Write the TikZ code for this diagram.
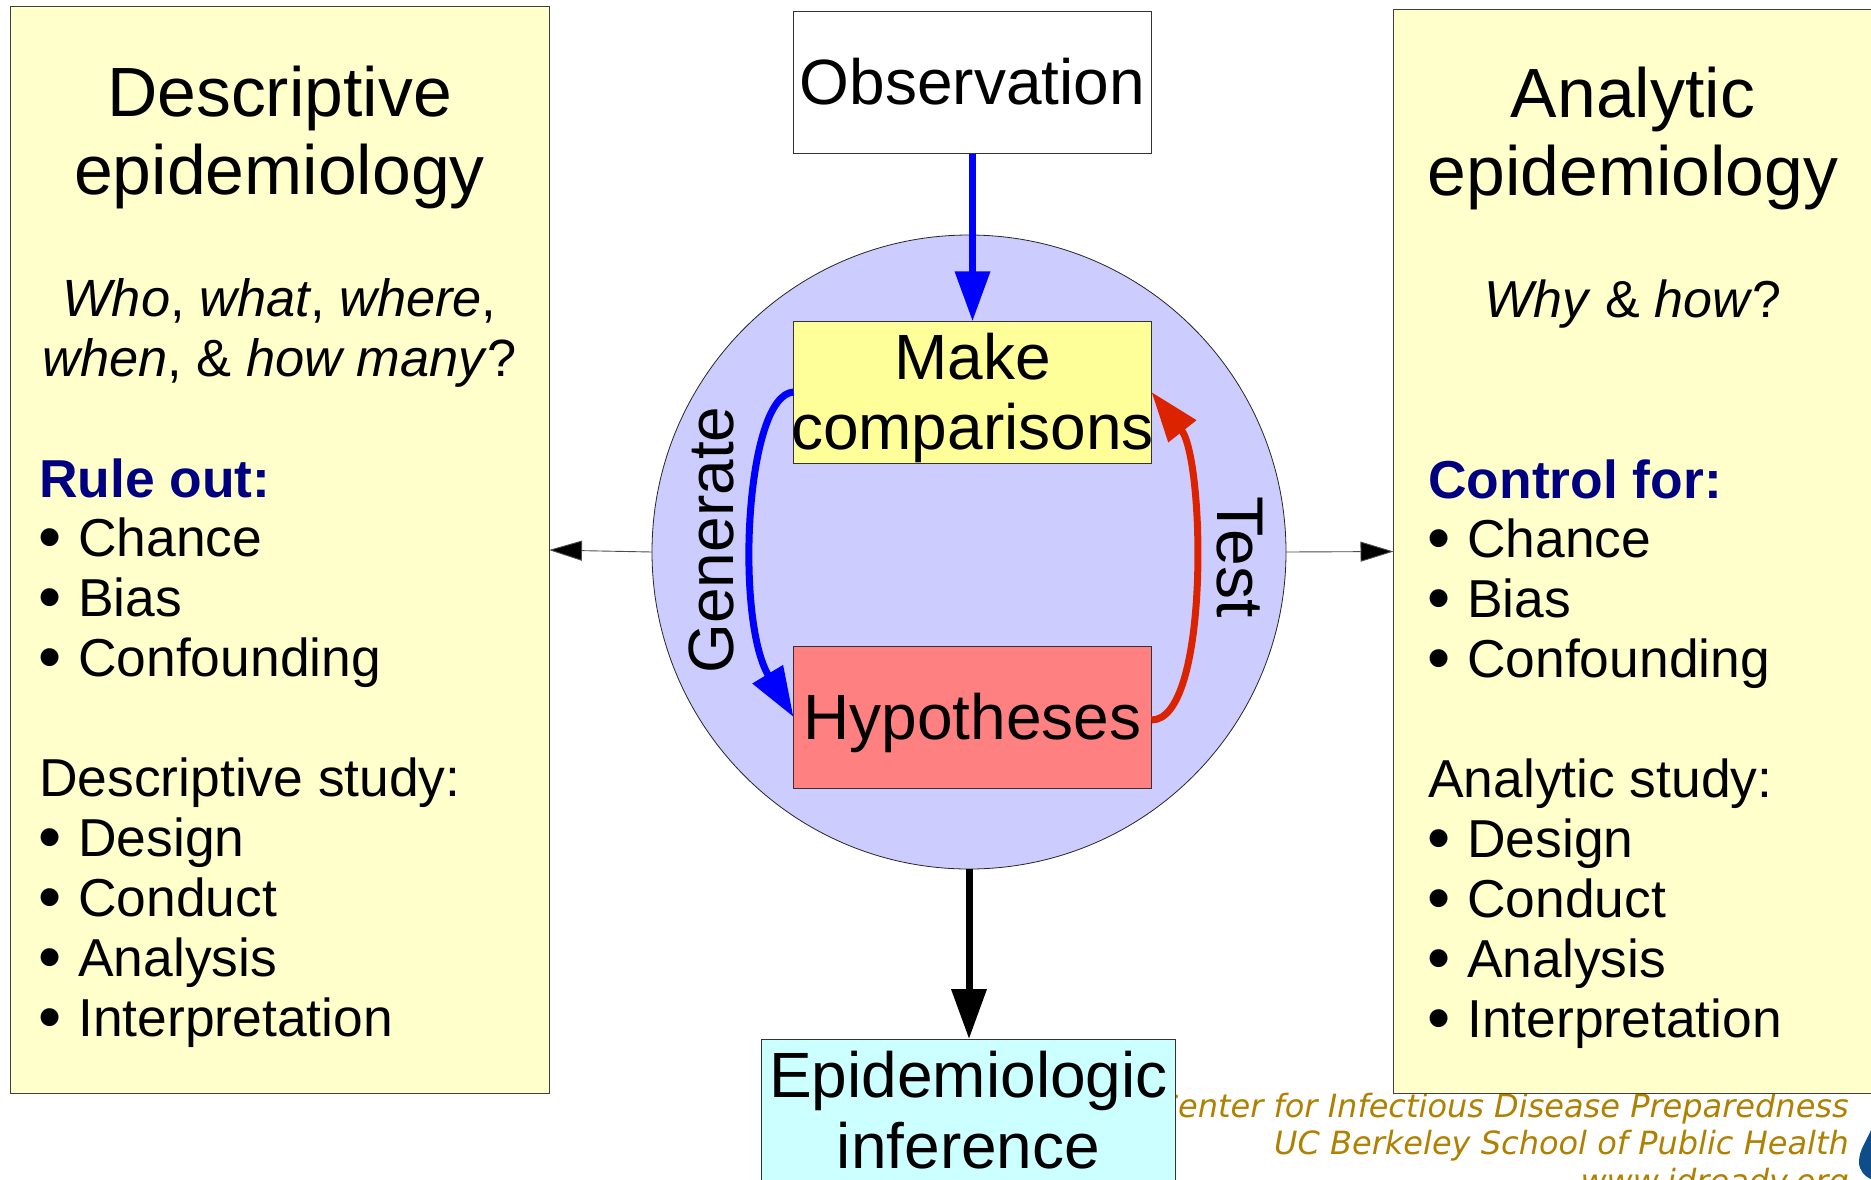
\documentclass[tikz,border=0pt]{standalone}
\usepackage{fontspec}
\setmainfont{Liberation Sans}
\newfontfamily\footfont{DejaVu Sans}
\usetikzlibrary{arrows.meta}
\definecolor{paleyel}{HTML}{FFFFCC}
\definecolor{yel}{HTML}{FFFF99}
\definecolor{rosy}{HTML}{FF8080}
\definecolor{lav}{HTML}{CCCCFF}
\definecolor{cyanish}{HTML}{CCFFFF}
\definecolor{redarrow}{HTML}{DC2300}
\definecolor{gold}{HTML}{B08000}
\definecolor{logoblue}{HTML}{0F4C8A}
\tikzset{
  x=1pt,y=-1pt,
  panel/.style={draw=black!75!white,line width=.9pt,fill=paleyel},
  boxn/.style={draw=black!80!white,line width=.9pt,inner sep=0pt,outer sep=0pt,minimum width=358pt,minimum height=142.5pt},
  big/.style={font=\fontsize{69.7}{78}\selectfont,anchor=base,inner sep=0pt},
  mid/.style={font=\fontsize{64}{70}\selectfont,align=center,inner sep=0pt},
  ln/.style={font=\fontsize{53.4}{60}\selectfont,anchor=base west,inner sep=0pt},
  ctr/.style={font=\fontsize{52.4}{60}\selectfont,anchor=base,inner sep=0pt},
  foot/.style={font=\footfont\itshape\fontsize{32}{37}\selectfont,text=gold,anchor=base east,inner sep=0pt},
  fat/.style={line width=7pt,-{Triangle[length=50pt,width=34pt]}},
  thin/.style={line width=.9pt,draw=black!70!white,-{Triangle[length=33pt,width=20pt,fill=black]}},
}
\newcommand{\hd}[1]{\textcolor[HTML]{000080}{\bfseries #1}}
\newcommand{\bul}{\fontsize{66}{60}\selectfont\raisebox{-3pt}{•}}
\begin{document}
\begin{tikzpicture}
\useasboundingbox (0,0) rectangle (1871,1179);
\clip (0,0) rectangle (1871,1179);
% footer and logo
\fill[logoblue] (1871,1130) .. controls (1866,1142) and (1859,1150) .. (1859,1162) .. controls (1859,1170) and (1864,1176) .. (1871,1179) -- cycle;
\node[foot] (f1) at (1849,1117) {Center for Infectious Disease Preparedness};
\node[foot] (f2) at (1849,1154) {UC Berkeley School of Public Health};
\node[foot] (f3) at (1849,1192) {www.idready.org};
% panels
\draw[panel] (10,6) rectangle (549,1093.5);
\draw[panel] (1393.5,9) rectangle (1890,1093.5);
% circle
\node[circle,draw=black!85!white,line width=.8pt,fill=lav,minimum size=634pt,inner sep=0pt,outer sep=0pt] (circ) at (969,552) {};
% boxes
\node[boxn,fill=white] (obs) at (972.5,82.5) {};
\node[boxn,fill=yel] (cmp) at (972.5,392.5) {};
\node[boxn,fill=rosy] (hyp) at (972.5,717.5) {};
\node[draw=black!80!white,line width=.9pt,fill=cyanish,inner sep=0pt,outer sep=0pt,minimum width=414pt,minimum height=180pt] (epi) at (968.5,1129) {};
% box text
\node[mid,anchor=base] (tobs) at (972.5,104) {Observation};
\node[mid,anchor=base] (tcmp1) at (972.5,379) {Make};
\node[mid,anchor=base] (tcmp2) at (972.5,449) {comparisons};
\node[mid,anchor=base] (thyp) at (972.5,739) {Hypotheses};
\node[mid,anchor=base] (tepi1) at (968.5,1097) {Epidemiologic};
\node[mid,anchor=base] (tepi2) at (968.5,1168) {inference};
% arrows
\draw[fat,draw=blue] (obs.south) -- (cmp.north);
\draw[fat,draw=black] (circ.south) -- (circ.south |- epi.north);
\coordinate (cl) at (793.5,392);
\coordinate (hl) at (793.5,717);
\coordinate (cr) at (1151.5,392);
\coordinate (hr) at (1151.5,720);
\draw[line width=7pt,draw=blue,-{Triangle[length=50pt,width=34pt]}] (cl) .. controls (745,395) and (735,620) .. (hl);
\draw[line width=7pt,draw=redarrow,-{Triangle[length=50pt,width=34pt]}] (hr) .. controls (1210,720) and (1205,460) .. (cr);
\coordinate (pl) at (549,550);
\coordinate (pr) at (1393.5,551.5);
\draw[thin] (circ.west) -- (pl);
\draw[thin] (circ.east) -- (pr);
% rotated labels
\node[font=\fontsize{64}{64}\selectfont,rotate=90,inner sep=0pt] (gen) at (711,540) {Generate};
\node[font=\fontsize{66}{66}\selectfont,rotate=-90,inner sep=0pt] (tst) at (1240,557) {Test};
% left panel
\node[big] (a1) at (279.5,116) {Descriptive};
\node[big] (a2) at (279.5,194) {epidemiology};
\node[ctr] (a3) at (279.5,316) {\textit{Who}, \textit{what}, \textit{where},};
\node[ctr] (a4) at (279.5,376) {\textit{when}, \& \textit{how many}?};
\node[ln] (a5) at (39,497) {\hd{Rule out:}};
\node[ln] (a6) at (38,556) {\bul};
\node[ln] (a7) at (78,556) {Chance};
\node[ln] (a8) at (38,616) {\bul};
\node[ln] (a9) at (78,616) {Bias};
\node[ln] (a10) at (38,676) {\bul};
\node[ln] (a11) at (78,676) {Confounding};
\node[ln] (a12) at (39,796) {Descriptive study:};
\node[ln] (a13) at (38,856) {\bul};
\node[ln] (a14) at (78,856) {Design};
\node[ln] (a15) at (38,916) {\bul};
\node[ln] (a16) at (78,916) {Conduct};
\node[ln] (a17) at (38,976) {\bul};
\node[ln] (a18) at (78,976) {Analysis};
\node[ln] (a19) at (38,1036) {\bul};
\node[ln] (a20) at (78,1036) {Interpretation};
% right panel
\node[big] (b1) at (1633,117) {Analytic};
\node[big] (b2) at (1633,195) {epidemiology};
\node[font=\fontsize{52}{60}\selectfont,anchor=base,inner sep=0pt] (b3) at (1633,317) {\textit{Why} \& \textit{how}?};
\node[ln] (b5) at (1428,498) {\hd{Control for:}};
\node[ln] (b6) at (1427,557) {\bul};
\node[ln] (b7) at (1467,557) {Chance};
\node[ln] (b8) at (1427,617) {\bul};
\node[ln] (b9) at (1467,617) {Bias};
\node[ln] (b10) at (1427,677) {\bul};
\node[ln] (b11) at (1467,677) {Confounding};
\node[ln] (b12) at (1428,797) {Analytic study:};
\node[ln] (b13) at (1427,857) {\bul};
\node[ln] (b14) at (1467,857) {Design};
\node[ln] (b15) at (1427,917) {\bul};
\node[ln] (b16) at (1467,917) {Conduct};
\node[ln] (b17) at (1427,977) {\bul};
\node[ln] (b18) at (1467,977) {Analysis};
\node[ln] (b19) at (1427,1037) {\bul};
\node[ln] (b20) at (1467,1037) {Interpretation};
\end{tikzpicture}
\end{document}
